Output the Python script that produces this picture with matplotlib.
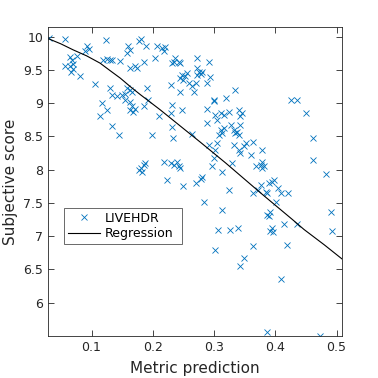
import numpy as np
import matplotlib
matplotlib.use("Agg")
import matplotlib.pyplot as plt

# LIVEHDR points (metric prediction, subjective score)
pred = [0.030, 0.057, 0.092, 0.096, 0.089, 0.123, 0.160, 0.163, 0.158, 0.177,
        0.180, 0.189, 0.207, 0.203, 0.185, 0.163, 0.171, 0.174, 0.119, 0.125,
        0.130, 0.133, 0.146, 0.057, 0.065, 0.070, 0.068, 0.076, 0.065, 0.070,
        0.066, 0.082, 0.106, 0.130, 0.133, 0.141, 0.150, 0.155, 0.158, 0.163,
        0.166, 0.155, 0.190, 0.193, 0.163, 0.166, 0.163, 0.171, 0.168, 0.185,
        0.117, 0.125, 0.114, 0.133, 0.210,
        0.215, 0.220, 0.218, 0.335, 0.319, 0.300, 0.231, 0.248, 0.229, 0.289,
        0.231,
        0.237, 0.242, 0.234, 0.231, 0.245, 0.272, 0.291, 0.248, 0.253, 0.245,
        0.256, 0.250, 0.272, 0.275, 0.278, 0.272, 0.281, 0.294, 0.289, 0.270,
        0.264, 0.267, 0.229, 0.245, 0.259,
        0.425, 0.436, 0.450,
        0.145, 0.199, 0.180, 0.185, 0.188, 0.182, 0.177,
        0.233, 0.264, 0.218, 0.229, 0.234, 0.240, 0.242, 0.245, 0.223, 0.250,
        0.270, 0.278, 0.280, 0.283, 0.313, 0.297, 0.313, 0.324, 0.307, 0.326,
        0.339, 0.390,
        0.300, 0.289, 0.302, 0.305, 0.311, 0.316, 0.324, 0.341, 0.346, 0.343,
        0.311, 0.313, 0.308, 0.316, 0.327, 0.332, 0.335, 0.340, 0.338, 0.343,
        0.291, 0.305, 0.302, 0.332, 0.341, 0.343, 0.349, 0.352, 0.363, 0.379,
        0.360, 0.300, 0.330, 0.379,
        0.368, 0.376, 0.381, 0.379, 0.395, 0.390, 0.398, 0.376, 0.371, 0.384,
        0.387, 0.404, 0.409, 0.420, 0.401, 0.363,
        0.461, 0.461, 0.482, 0.387, 0.391, 0.395, 0.396, 0.392, 0.414, 0.436,
        0.491, 0.493, 0.419, 0.409, 0.387, 0.473, 0.302, 0.364, 0.349, 0.343]
score = [9.98, 9.96, 9.86, 9.81, 9.78, 9.95, 9.86, 9.80, 9.75, 9.94,
         9.96, 9.86, 9.86, 9.67, 9.62, 9.53, 9.55, 9.53, 9.64, 9.66,
         9.64, 9.65, 9.63, 9.56, 9.56, 9.59, 9.65, 9.71, 9.70, 9.51,
         9.47, 9.40, 9.29, 9.23, 9.12, 9.10, 9.12, 9.14, 9.23, 9.19,
         9.16, 9.05, 9.23, 9.05, 9.01, 8.96, 8.90, 8.91, 8.87, 8.96,
         9.00, 8.89, 8.80, 8.65, 8.80,
         9.83, 9.84, 9.78, 9.19, 9.08, 9.04, 8.97, 8.89, 8.85, 8.91,
         8.64,
         9.67, 9.62, 9.62, 9.60, 9.60, 9.67, 9.61, 9.42, 9.40, 9.38,
         9.45, 9.35, 9.52, 9.47, 9.44, 9.42, 9.46, 9.39, 9.30, 9.30,
         9.25, 9.17, 9.27, 9.17, 9.30,
         9.05, 9.05, 8.85,
         8.52, 8.52, 8.02, 8.07, 8.10, 7.97, 8.00,
         8.47, 8.54, 8.12, 8.10, 8.07, 8.12, 8.05, 8.02, 7.84, 7.75,
         7.80, 7.86, 7.89, 7.51, 7.39, 8.05, 7.96, 7.70, 7.10, 7.10,
         7.13, 7.30,
         9.03, 8.70, 8.82, 8.75, 8.85, 8.82, 8.87, 8.90, 8.85, 8.80,
         8.60, 8.55, 8.52, 8.62, 8.67, 8.60, 8.55, 8.52, 8.57, 8.67,
         8.37, 8.40, 8.30, 8.37, 8.30, 8.25, 8.35, 8.40, 8.42, 8.30,
         8.22, 8.17, 8.10, 8.12,
         8.05, 8.07, 8.05, 8.02, 7.82, 7.80, 7.84, 7.77, 7.70, 7.67,
         7.65, 7.72, 7.65, 7.65, 7.52, 7.65,
         8.47, 8.15, 7.93, 7.32, 7.36, 7.13, 7.06, 7.08, 7.19, 7.19,
         7.36, 7.08, 6.87, 6.35, 5.56, 5.50, 6.79, 6.86, 6.67, 6.55]

# regression curve
reg_x = [0.029, 0.050, 0.070, 0.092, 0.114, 0.130, 0.147, 0.163, 0.180,
         0.212, 0.251, 0.278, 0.319, 0.376, 0.428, 0.447, 0.480, 0.510]
reg_y = [9.97, 9.89, 9.80, 9.71, 9.60, 9.49, 9.375, 9.25, 9.125,
         8.90, 8.61, 8.41, 8.10, 7.65, 7.25, 7.10, 6.87, 6.65]

xticks = [0.1, 0.2, 0.3, 0.4, 0.5]
yticks = [6, 6.5, 7, 7.5, 8, 8.5, 9, 9.5, 10]

plt.rcParams['font.family'] = 'DejaVu Sans'
fig = plt.figure(figsize=(3.78, 3.78), dpi=100)
ax = fig.add_axes([0.127, 0.111, 0.778, 0.817])

ax.plot(pred, score, 'x', color='#0072BD', markersize=5, markeredgewidth=0.6,
        label='LIVEHDR')
ax.plot(reg_x, reg_y, '-', color='k', linewidth=0.8, label='Regression')

ax.set_xlim(0.029, 0.509)
ax.set_ylim(5.5, 10.14)
ax.set_xticks(xticks)
ax.set_xticklabels([str(t) for t in xticks])
ax.set_yticks(yticks)
ax.set_yticklabels(['6', '6.5', '7', '7.5', '8', '8.5', '9', '9.5', '10'])
ax.tick_params(direction='in', length=4, width=0.6, top=True, right=True,
               labelsize=9, colors='#262626', labelcolor='#262626')
for s in ax.spines.values():
    s.set_color('#262626')
    s.set_linewidth(0.6)

ax.set_xlabel('Metric prediction', fontsize=11, color='#262626', labelpad=5)
ax.set_ylabel('Subjective score', fontsize=11, color='#262626', labelpad=4)

leg = ax.legend(loc='lower left', bbox_to_anchor=(0.054, 0.298, 0.40, 0.112),
                fontsize=9, frameon=True, fancybox=False, borderpad=0.3,
                handlelength=2.6, labelspacing=0.2, handletextpad=0.4,
                mode='expand', borderaxespad=0)
leg.get_frame().set_edgecolor('#262626')
leg.get_frame().set_linewidth(0.6)

fig.savefig('out.png', dpi=100)
